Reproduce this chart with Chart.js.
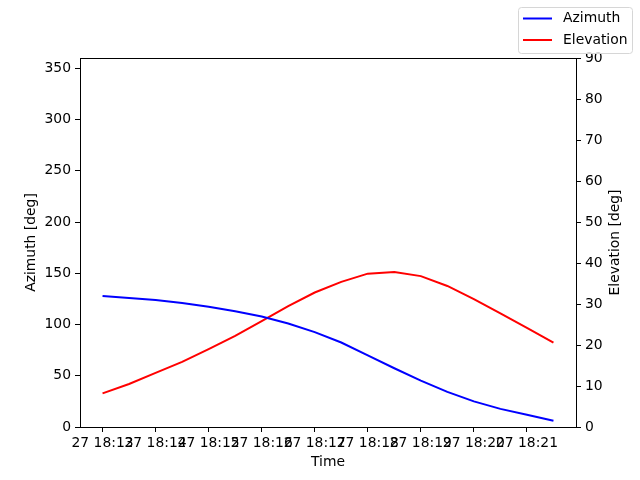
<!DOCTYPE html>
<html>
<head>
<meta charset="utf-8">
<script src="https://cdn.jsdelivr.net/npm/chart.js@4/dist/chart.umd.min.js"></script>
<style>
  html, body { margin: 0; padding: 0; background: #fff; }
  #wrap { width: 640px; height: 480px; position: relative; }
</style>
</head>
<body>
<div id="wrap"><canvas id="chart" width="640" height="480"></canvas></div>
<script>
// sample times (day 27), one every 30 s
var times = ['18:13:00', '18:13:30', '18:14:00', '18:14:30', '18:15:00', '18:15:30',
             '18:16:00', '18:16:30', '18:17:00', '18:17:30', '18:18:00', '18:18:30',
             '18:19:00', '18:19:30', '18:20:00', '18:20:30', '18:21:00', '18:21:30']
var azimuth = [127.7, 125.8, 123.8, 120.9, 117.4, 113.0, 107.8, 101.0, 92.6, 82.4,
               69.8, 57.3, 45.3, 34.3, 25.0, 17.7, 11.9, 6.1]
var elevation = [8.2, 10.5, 13.2, 15.9, 19.0, 22.2, 25.8, 29.5, 32.8, 35.4,
                 37.4, 37.8, 36.8, 34.4, 31.2, 27.7, 24.2, 20.6]
var tickLabels = ['27 18:13', '27 18:14', '27 18:15', '27 18:16', '27 18:17',
                  '27 18:18', '27 18:19', '27 18:20', '27 18:21']

var FONT = 'DejaVu Sans'
var FS = 13.9

// minutes since 18:13
function toMin(t) {
    var p = t.split(':')
    return (parseInt(p[0]) * 60 + parseInt(p[1]) + parseInt(p[2]) / 60) - (18 * 60 + 13)
}

var azData = []
var elData = []
times.forEach(function (t, i) {
    azData.push({ x: toMin(t), y: azimuth[i] })
    elData.push({ x: toMin(t), y: elevation[i] })
})

var span = toMin(times[times.length - 1]) - toMin(times[0])

// frame, axis titles and figure legend, drawn like matplotlib
var framePlugin = {
    id: 'frame',
    afterDraw: function (chart) {
        var ctx = chart.ctx
        var a = chart.chartArea
        ctx.save()
        ctx.strokeStyle = '#000'
        ctx.lineWidth = 1
        ctx.strokeRect(Math.round(a.left) + 0.5, Math.round(a.top) + 0.5,
                       Math.round(a.right - a.left), Math.round(a.bottom - a.top))

        ctx.font = FS + 'px "' + FONT + '"'
        ctx.fillStyle = '#000'
        ctx.textAlign = 'center'
        ctx.textBaseline = 'middle'
        var midY = (a.top + a.bottom) / 2
        ctx.fillText('Time', (a.left + a.right) / 2, 462)
        ctx.save()
        ctx.translate(31, midY)
        ctx.rotate(-Math.PI / 2)
        ctx.fillText('Azimuth [deg]', 0, 0)
        ctx.restore()
        ctx.save()
        ctx.translate(615, midY)
        ctx.rotate(-Math.PI / 2)
        ctx.fillText('Elevation [deg]', 0, 0)
        ctx.restore()

        // legend box
        var bx = 518.5, by = 7.5, bw = 114, bh = 46, r = 3
        ctx.beginPath()
        ctx.moveTo(bx + r, by)
        ctx.arcTo(bx + bw, by, bx + bw, by + bh, r)
        ctx.arcTo(bx + bw, by + bh, bx, by + bh, r)
        ctx.arcTo(bx, by + bh, bx, by, r)
        ctx.arcTo(bx, by, bx + bw, by, r)
        ctx.closePath()
        ctx.fillStyle = 'rgba(255,255,255,0.8)'
        ctx.fill()
        ctx.strokeStyle = '#d6d6d6'
        ctx.lineWidth = 1
        ctx.stroke()

        var items = [['Azimuth', 'blue', 18.5], ['Elevation', 'red', 40]]
        ctx.textAlign = 'left'
        items.forEach(function (it) {
            ctx.strokeStyle = it[1]
            ctx.lineWidth = 2
            ctx.beginPath()
            ctx.moveTo(523, it[2])
            ctx.lineTo(552, it[2])
            ctx.stroke()
            ctx.fillStyle = '#000'
            ctx.fillText(it[0], 563, it[2])
        })
        ctx.restore()
    }
}

var ctx = document.getElementById('chart').getContext('2d')
var chart = new Chart(ctx, {
    type: 'line',
    data: {
        datasets: [{
            label: 'Azimuth',
            data: azData,
            borderColor: 'blue',
            borderWidth: 2,
            pointRadius: 0,
            tension: 0,
            yAxisID: 'y'
        }, {
            label: 'Elevation',
            data: elData,
            borderColor: 'red',
            borderWidth: 2,
            pointRadius: 0,
            tension: 0,
            yAxisID: 'y2'
        }]
    },
    options: {
        responsive: false,
        animation: false,
        devicePixelRatio: 1,
        layout: { padding: { left: 0, right: 0, top: 58, bottom: 0 } },
        plugins: {
            legend: { display: false },
            tooltip: { enabled: false }
        },
        scales: {
            x: {
                type: 'linear',
                min: -0.05 * span,
                max: span * 1.05,
                afterBuildTicks: function (s) {
                    s.ticks = tickLabels.map(function (l, i) { return { value: i } })
                },
                afterFit: function (s) { s.height = 53 },
                grid: { drawOnChartArea: false, drawTicks: true, tickLength: 5, color: '#000' },
                border: { display: false },
                ticks: {
                    autoSkip: false,
                    maxRotation: 0,
                    minRotation: 0,
                    padding: 3,
                    color: '#000',
                    font: { family: FONT, size: FS },
                    callback: function (v, i) { return tickLabels[i] }
                }
            },
            y: {
                position: 'left',
                min: 0,
                max: 360,
                afterFit: function (s) { s.width = 80 },
                grid: { drawOnChartArea: false, drawTicks: true, tickLength: 5, color: '#000' },
                border: { display: false },
                ticks: {
                    stepSize: 50,
                    includeBounds: false,
                    padding: 4,
                    color: '#000',
                    font: { family: FONT, size: FS }
                }
            },
            y2: {
                position: 'right',
                min: 0,
                max: 90,
                afterFit: function (s) { s.width = 64 },
                grid: { drawOnChartArea: false, drawTicks: true, tickLength: 5, color: '#000' },
                border: { display: false },
                ticks: {
                    stepSize: 10,
                    padding: 4,
                    color: '#000',
                    font: { family: FONT, size: FS }
                }
            }
        }
    },
    plugins: [framePlugin]
})
</script>
</body>
</html>
